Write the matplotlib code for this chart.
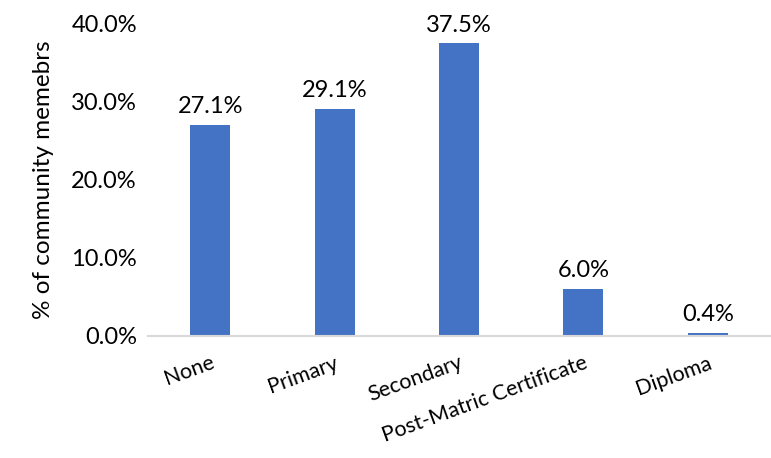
import matplotlib.pyplot as plt
from matplotlib.ticker import FuncFormatter

categories = ["None", "Primary", "Secondary", "Post-Matric Certificate", "Diploma"]
values = [27.1, 29.1, 37.5, 6.0, 0.4]
yticks = [0, 10, 20, 30, 40]

plt.rcParams['font.family'] = ['Lato', 'DejaVu Sans']

fig = plt.figure(figsize=(7.71, 4.58), dpi=100)
ax = fig.add_axes([148 / 771, 122 / 458, 622 / 771, 312 / 458])

x = range(len(categories))
bars = ax.bar(x, values, width=0.32, color="#4472C4", zorder=2)
for xi, v in zip(x, values):
    ax.text(xi, v + 1.0, f"{v:.1f}%", ha="center", va="bottom", fontsize=17)

ax.set_xlim(-0.5, len(categories) - 0.5)
ax.set_ylim(0, 40)
ax.set_yticks(yticks)
ax.yaxis.set_major_formatter(FuncFormatter(lambda v, p: f"{v:.1f}%"))
ax.set_xticks(list(x))
ax.set_xticklabels(categories, rotation=20, ha="right", rotation_mode="anchor", fontsize=15.5)
ax.tick_params(axis="y", labelsize=17, length=0, pad=8)
ax.tick_params(axis="x", length=0, pad=12)
ax.set_ylabel("% of community memebrs", fontsize=17.5, labelpad=12)

for s in ["top", "right", "left"]:
    ax.spines[s].set_visible(False)
ax.spines["bottom"].set_color("#D9D9D9")
ax.spines["bottom"].set_linewidth(1.5)

fig.savefig("out.png", dpi=100)
